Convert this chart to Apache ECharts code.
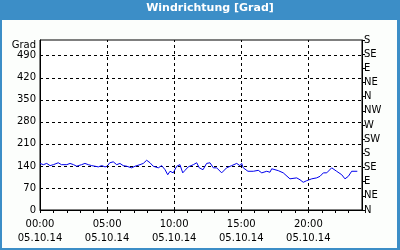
<!DOCTYPE html>
<html>
<head>
    <meta charset="utf-8">
    <title>Windrichtung</title>
    <script type="text/javascript" src="https://cdn.jsdelivr.net/npm/echarts@6/dist/echarts.min.js"></script>
    <style>
        body { margin: 0; }
        #chart { width: 400px; height: 250px; }
    </style>
</head>
<body>
<div id="chart"></div>
<script type="text/javascript">
    // Stunden seit 00:00 am 05.10.14
    var hours = [0, 0.25, 0.5, 0.75, 1.0, 1.36, 1.6, 2.0, 2.24, 2.5, 2.74, 3.1, 3.35, 3.6, 3.85, 4.1, 4.35, 4.6, 4.85, 5.0,
        5.2, 5.46, 5.72, 5.96, 6.2, 6.46, 6.83, 7.08, 7.45, 7.7, 7.95, 8.2, 8.44, 8.57, 8.82, 9.07, 9.32, 9.52, 9.69, 9.93,
        10.19, 10.43, 10.64, 10.81, 11.05, 11.43, 11.68, 11.87, 12.15, 12.42, 12.67, 12.92, 13.17, 13.54, 13.91, 14.29, 14.66, 14.9, 15.03, 15.15,
        15.5, 15.9, 16.27, 16.4, 16.53, 16.9, 17.14, 17.27, 17.76, 18.13, 18.63, 19.13, 19.38, 19.62, 19.87, 20.25, 20.62, 20.87, 21.12, 21.37,
        21.74, 22.11, 22.49, 22.73, 22.98, 23.23, 23.65];
    // Windrichtung in Grad
    var windDir = [148, 144, 148, 141, 144, 150, 144, 144, 148, 144, 139, 144, 148, 144, 141, 139, 137, 141, 137, 139,
        150, 153, 144, 148, 141, 139, 134, 139, 144, 148, 158, 150, 139, 144, 134, 141, 128, 112, 123, 118,
        139, 144, 118, 126, 137, 144, 150, 134, 128, 148, 150, 134, 134, 118, 134, 141, 148, 141, 148, 134,
        123, 123, 126, 131, 118, 123, 120, 131, 125, 118, 99, 102, 96, 88, 93, 99, 102, 107, 118, 118,
        134, 123, 112, 99, 107, 123, 123];
    var majorHours = [5, 10, 15, 20];
    var compass = ['N', 'NE', 'E', 'SE', 'S', 'SW', 'W', 'NW'];

    var lineData = [];
    for (var i = 0; i < hours.length; i++) {
        lineData.push([hours[i], windDir[i]]);
    }
    var gridLines = [];
    for (var j = 0; j < majorHours.length; j++) {
        gridLines.push({ xAxis: majorHours[j] });
    }

    var frameColor = '#3c8ec7';
    var font = 'DejaVu Sans';
    var myChart = echarts.init(document.getElementById('chart'));

    var option = {
        backgroundColor: '#fcfefc',
        animation: false,
        title: {
            text: 'Windrichtung [Grad]',
            left: 210,
            top: 3,
            textAlign: 'center',
            padding: 0,
            textStyle: { color: '#fff', fontFamily: font, fontSize: 11, fontWeight: 'bold' }
        },
        graphic: [
            { type: 'rect', shape: { x: 0, y: 0, width: 400, height: 20 }, style: { fill: frameColor }, z: -1 },
            { type: 'rect', shape: { x: 0, y: 0, width: 2, height: 250 }, style: { fill: frameColor } },
            { type: 'rect', shape: { x: 397, y: 0, width: 3, height: 250 }, style: { fill: frameColor } },
            { type: 'rect', shape: { x: 0, y: 248, width: 400, height: 2 }, style: { fill: frameColor } }
        ],
        grid: {
            left: 40, right: 38, top: 40, bottom: 40,
            show: true, borderColor: '#000', borderWidth: 1, backgroundColor: '#fff'
        },
        xAxis: {
            type: 'value', min: 0, max: 24, interval: 1,
            axisLine: { lineStyle: { color: '#000' } },
            axisTick: { show: true, length: 3, lineStyle: { color: '#000' } },
            axisLabel: {
                showMaxLabel: false, color: '#000', fontFamily: font, fontSize: 10,
                lineHeight: 14, margin: 7,
                formatter: function (v) {
                    if (v % 5 !== 0) return '';
                    return (v < 10 ? '0' + v : v) + ':00\n05.10.14';
                }
            },
            splitLine: { show: false }
        },
        yAxis: [
            {
                type: 'value', min: 0, max: 540, interval: 70, position: 'left',
                name: 'Grad', nameLocation: 'end', nameGap: -6,
                nameTextStyle: { color: '#000', fontFamily: font, fontSize: 10, align: 'right', verticalAlign: 'middle', padding: [0, 4, 0, 0] },
                axisLine: { show: true, lineStyle: { color: '#000' } },
                axisTick: { show: false },
                axisLabel: { showMaxLabel: false, color: '#000', fontFamily: font, fontSize: 10, margin: 4 },
                splitLine: {
                    show: true, showMinLine: false, showMaxLine: false,
                    lineStyle: { color: '#000', type: [3, 3], width: 1 }
                }
            },
            {
                type: 'value', min: 0, max: 540, interval: 45, position: 'right',
                axisLine: { show: true, lineStyle: { color: '#000' } },
                axisTick: { show: true, length: 3, lineStyle: { color: '#000' } },
                axisLabel: {
                    color: '#000', fontFamily: font, fontSize: 10, margin: 2,
                    formatter: function (v) { return compass[Math.round(v / 45) % 8]; }
                },
                splitLine: { show: false }
            }
        ],
        series: [
            {
                name: 'Windrichtung',
                type: 'line',
                yAxisIndex: 0,
                data: lineData,
                showSymbol: false,
                lineStyle: { color: '#0000ee', width: 1 },
                markLine: {
                    silent: true,
                    symbol: ['none', 'none'],
                    label: { show: false },
                    lineStyle: { color: '#000', type: [3, 3], width: 1 },
                    data: gridLines
                }
            }
        ]
    };
    myChart.setOption(option);
</script>
</body>
</html>
